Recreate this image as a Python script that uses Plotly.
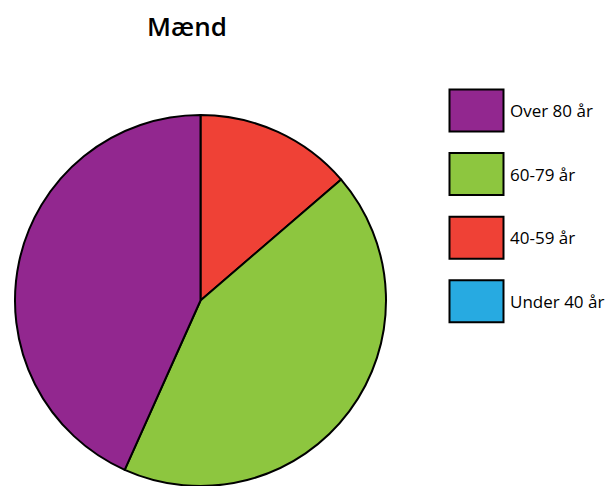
import plotly.graph_objects as go

W, H = 611, 486

# Data (legend order)
labels = ["Over 80 år", "60-79 år", "40-59 år", "Under 40 år"]
values = [43.3, 43.0, 13.7, 0.0]
colors = ["#92278F", "#8DC63F", "#EF4136", "#27AAE1"]
title_text = "Mænd"

FONT = "Open Sans"

fig = go.Figure()
fig.add_trace(go.Pie(
    labels=labels[::-1],
    values=values[::-1],
    marker=dict(colors=colors[::-1], line=dict(color="black", width=2)),
    sort=False,
    direction="clockwise",
    rotation=0,
    textinfo="none",
    hoverinfo="label+value",
    showlegend=False,
    domain=dict(x=[15 / W, 386 / W], y=[0, 371 / H]),
))

# Custom legend
shapes = []
annotations = []
box_x0, box_x1 = 449.5, 503.5
top0, box_h, step = 89.5, 42, 63.6
for i, (lab, col) in enumerate(zip(labels, colors)):
    y0 = top0 + i * step
    y1 = y0 + box_h
    shapes.append(dict(
        type="rect", xref="paper", yref="paper",
        x0=box_x0 / W, x1=box_x1 / W,
        y0=1 - y1 / H, y1=1 - y0 / H,
        fillcolor=col, line=dict(color="black", width=2),
    ))
    annotations.append(dict(
        text=lab, xref="paper", yref="paper",
        x=508 / W, y=1 - (y0 + box_h / 2) / H,
        xanchor="left", yanchor="middle", showarrow=False,
        font=dict(family=FONT, size=17, color="black"),
    ))

fig.update_layout(
    width=W, height=H,
    margin=dict(l=0, r=0, t=0, b=0),
    paper_bgcolor="white",
    plot_bgcolor="white",
    title=dict(
        text=title_text,
        x=187 / W, xanchor="center", xref="paper",
        y=1 - 27 / H, yanchor="middle", yref="container",
        font=dict(family=FONT, size=26, color="black", weight=600),
    ),
    shapes=shapes,
    annotations=annotations,
)

fig.write_html("out.html")
